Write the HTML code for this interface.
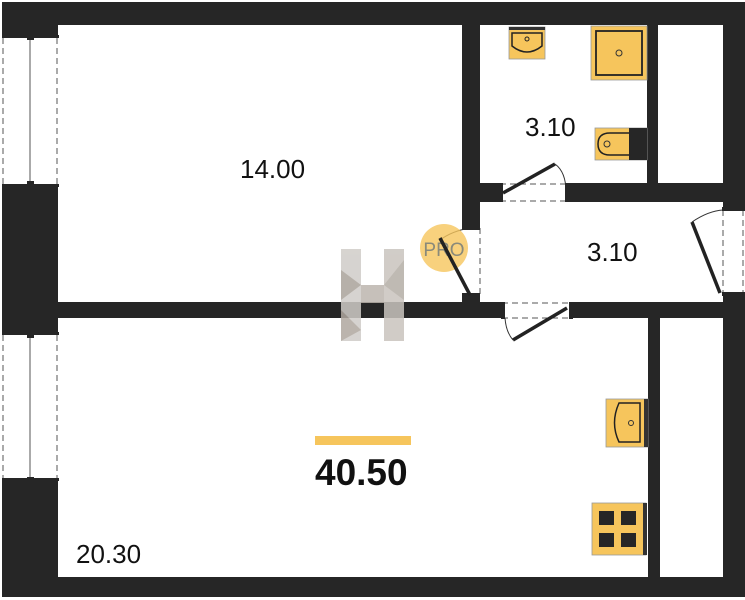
<!DOCTYPE html>
<html><head><meta charset="utf-8"><style>
body{margin:0;background:#fff}
svg{display:block}
text{font-family:"Liberation Sans",sans-serif}
</style></head><body>
<svg width="745" height="600" viewBox="0 0 745 600" xmlns="http://www.w3.org/2000/svg">
<rect width="745" height="600" fill="#fff"/>
<g fill="#262626">
<rect x="2" y="2" width="743" height="23"/>
<rect x="2" y="577" width="743" height="20"/>
<rect x="2" y="2" width="56" height="34"/>
<rect x="2" y="186" width="56" height="147"/>
<rect x="2" y="480" width="56" height="117"/>
<rect x="723" y="2" width="22" height="206"/>
<rect x="723" y="295" width="22" height="302"/>
<rect x="58" y="302" width="444" height="16"/>
<rect x="572" y="302" width="151" height="16"/>
<rect x="462" y="25" width="18" height="203"/>
<rect x="462" y="295" width="18" height="10"/>
<rect x="480" y="183" width="20" height="19"/>
<rect x="568" y="183" width="155" height="19"/>
<rect x="647" y="25" width="11" height="158"/>
<rect x="648" y="318" width="12" height="259"/>
</g>
<g stroke="#555" fill="none">
<line x1="3" y1="38" x2="3" y2="184" stroke-dasharray="6,4"/>
<line x1="57" y1="38" x2="57" y2="184" stroke-dasharray="6,4"/>
<line x1="30" y1="38" x2="30" y2="184"/>
<line x1="3" y1="335" x2="3" y2="478" stroke-dasharray="6,4"/>
<line x1="57" y1="335" x2="57" y2="478" stroke-dasharray="6,4"/>
<line x1="30" y1="335" x2="30" y2="478"/>
</g>
<g fill="#262626">
<rect x="2" y="35" width="57" height="3"/><rect x="2" y="184" width="57" height="3"/>
<rect x="2" y="332" width="57" height="3"/><rect x="2" y="478" width="57" height="3"/>
<rect x="27" y="36" width="7" height="4"/><rect x="27" y="181" width="7" height="4"/>
<rect x="27" y="334" width="7" height="4"/><rect x="27" y="477" width="7" height="4"/>
</g>
<g stroke="#555" fill="none" stroke-dasharray="6,4">
<line x1="500" y1="184" x2="568" y2="184"/><line x1="500" y1="201" x2="568" y2="201"/>
<line x1="502" y1="303" x2="572" y2="303"/><line x1="502" y1="318" x2="572" y2="318"/>
<line x1="480" y1="228" x2="480" y2="295"/>
<line x1="723" y1="210" x2="723" y2="293"/><line x1="743" y1="210" x2="743" y2="293"/>
</g>
<g stroke="#222" stroke-width="3.5">
<line x1="503" y1="193" x2="555" y2="164"/>
<line x1="567" y1="308" x2="513" y2="340"/>
<line x1="720" y1="293" x2="692" y2="222"/>
</g>
<g stroke="#333" stroke-width="1" fill="none">
<path d="M555 164 Q566 172 566 192"/>
<path d="M505 318 Q506 332 513 340"/>
<path d="M440 240 Q452 231 470 228"/>
<path d="M692 222 Q708 211 723 210"/>
</g>
<g fill="#262626">
<rect x="499" y="183" width="4" height="19"/><rect x="565" y="183" width="4" height="19"/>
<rect x="501" y="302" width="4" height="17"/><rect x="569" y="302" width="4" height="17"/>
<rect x="462" y="226" width="18" height="4"/><rect x="462" y="293" width="18" height="4"/>
<rect x="722" y="207" width="23" height="4"/><rect x="722" y="292" width="23" height="4"/>
</g>
<rect x="509" y="27" width="36" height="32" fill="#f6c55c" stroke="#999" stroke-width="0.8"/>
<rect x="509" y="27" width="36" height="3" fill="#333"/>
<path d="M512 33 H542 V46 Q527 58 512 46 Z" fill="none" stroke="#222" stroke-width="1.5"/>
<circle cx="527" cy="39" r="2" fill="none" stroke="#222"/>
<rect x="591" y="26" width="56" height="54" fill="#f6c55c" stroke="#999" stroke-width="0.8"/>
<rect x="596" y="31" width="46" height="44" fill="none" stroke="#222" stroke-width="1.8"/>
<circle cx="619" cy="53" r="3" fill="none" stroke="#333"/>
<rect x="595" y="128" width="52" height="32" fill="#f6c55c" stroke="#999" stroke-width="0.8"/>
<rect x="629" y="128" width="18" height="32" fill="#262626"/>
<path d="M629 133 H610 Q598 133 598 144 Q598 155 610 155 H629" fill="none" stroke="#222" stroke-width="1.5"/>
<circle cx="607" cy="144" r="3" fill="none" stroke="#333"/>
<rect x="606" y="399" width="42" height="48" fill="#f6c55c" stroke="#999" stroke-width="0.8"/>
<rect x="644" y="399" width="4" height="48" fill="#333"/>
<path d="M640 403 V442 H619 Q610 423 619 403 Z" fill="none" stroke="#222" stroke-width="1.5"/>
<circle cx="631" cy="423" r="2.5" fill="none" stroke="#333"/>
<rect x="592" y="503" width="54" height="52" fill="#f6c55c" stroke="#999" stroke-width="0.8"/>
<rect x="643" y="503" width="4" height="52" fill="#333"/>
<g fill="#262626">
<rect x="599" y="511" width="15" height="14"/><rect x="621" y="511" width="15" height="14"/>
<rect x="599" y="533" width="15" height="14"/><rect x="621" y="533" width="15" height="14"/>
</g>
<g opacity="0.85">
<rect x="341" y="249" width="20" height="92" fill="#d0ccc8"/>
<rect x="384" y="249" width="20" height="92" fill="#c9c4be"/>
<rect x="361" y="285" width="23" height="18" fill="#bdb6ae"/>
<polygon points="341,270 361,285 341,300" fill="#aaa39b"/>
<polygon points="404,260 384,285 404,300" fill="#b5aea6"/>
<polygon points="341,310 361,330 341,341" fill="#b0a89f"/>
</g>
<circle cx="444" cy="248" r="24" fill="#f6c55c" opacity="0.8"/>
<text x="444" y="256" font-size="19" fill="#8a8a7a" text-anchor="middle">PRO</text>
<line x1="470" y1="295" x2="440" y2="238" stroke="#222" stroke-width="3.5"/>
<text x="240" y="178" font-size="26" fill="#111">14.00</text>
<text x="525" y="136" font-size="26" fill="#111">3.10</text>
<text x="587" y="261" font-size="26" fill="#111">3.10</text>
<text x="76" y="563" font-size="26" fill="#111">20.30</text>
<rect x="315" y="436" width="96" height="9" fill="#f6c55c"/>
<text x="315" y="485" font-size="37" font-weight="bold" fill="#111">40.50</text>
</svg>
</body></html>
